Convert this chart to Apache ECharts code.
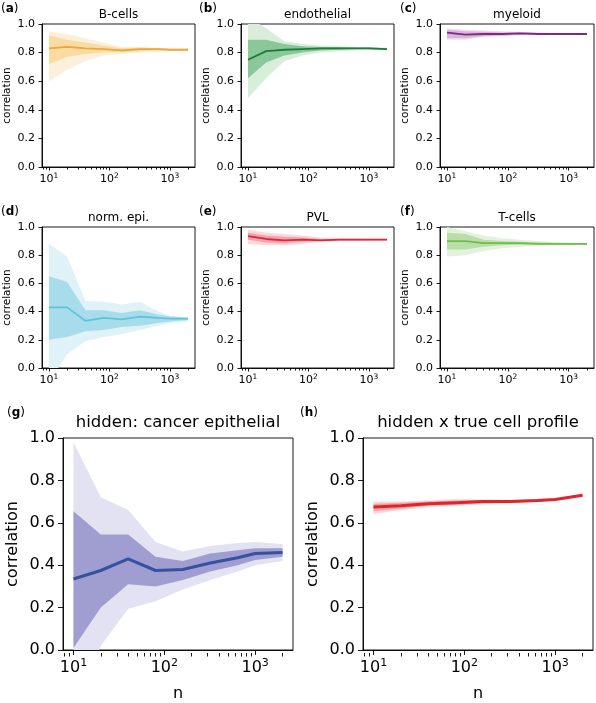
<!DOCTYPE html>
<html>
<head>
<meta charset="utf-8">
<script src="https://cdn.jsdelivr.net/npm/echarts@6/dist/echarts.min.js"></script>
<style>html,body{margin:0;padding:0;background:#fff}#chart{width:596px;height:703px}</style>
</head>
<body>
<div id="chart"></div>
<script>
// ---- data ----
const nValues = [10, 20, 40, 80, 160, 320, 640, 1000, 2000];
const majorTicks = [10, 100, 1000];
const minorTicks = [8, 9, 20, 30, 40, 50, 60, 70, 80, 90, 200, 300, 400, 500, 600, 700, 800, 900, 2000];

const panelLabels = ['a', 'b', 'c', 'd', 'e', 'f', 'g', 'h'];
const panelTitles = ['B-cells', 'endothelial', 'myeloid', 'norm. epi.', 'PVL', 'T-cells', 'hidden: cancer epithelial', 'hidden x true cell profile'];

const bcellsMean    = [0.83, 0.84, 0.83, 0.825, 0.815, 0.825, 0.825, 0.82, 0.82];
const bcellsInnerLo = [0.72, 0.77, 0.79, 0.80, 0.80, 0.81, 0.815, 0.815, 0.815];
const bcellsInnerHi = [0.92, 0.89, 0.87, 0.85, 0.83, 0.835, 0.83, 0.825, 0.825];
const bcellsOuterLo = [0.60, 0.68, 0.74, 0.78, 0.79, 0.80, 0.805, 0.81, 0.81];
const bcellsOuterHi = [0.95, 0.93, 0.90, 0.87, 0.84, 0.84, 0.835, 0.83, 0.83];

const endoMean    = [0.75, 0.81, 0.82, 0.825, 0.83, 0.83, 0.83, 0.83, 0.825];
const endoInnerLo = [0.62, 0.73, 0.78, 0.80, 0.815, 0.82, 0.825, 0.825, 0.82];
const endoInnerHi = [0.89, 0.89, 0.86, 0.845, 0.84, 0.84, 0.835, 0.835, 0.83];
const endoOuterLo = [0.48, 0.62, 0.74, 0.78, 0.80, 0.81, 0.815, 0.82, 0.815];
const endoOuterHi = [1.05, 0.97, 0.88, 0.86, 0.85, 0.845, 0.84, 0.84, 0.835];

const myeloidMean    = [0.94, 0.925, 0.93, 0.93, 0.935, 0.93, 0.93, 0.93, 0.93];
const myeloidInnerLo = [0.90, 0.90, 0.915, 0.92, 0.925, 0.925, 0.925, 0.927, 0.927];
const myeloidInnerHi = [0.96, 0.95, 0.945, 0.94, 0.94, 0.937, 0.935, 0.933, 0.933];
const myeloidOuterLo = [0.89, 0.89, 0.91, 0.915, 0.92, 0.922, 0.923, 0.925, 0.925];
const myeloidOuterHi = [0.97, 0.96, 0.955, 0.95, 0.945, 0.94, 0.937, 0.935, 0.935];

const normMean    = [0.43, 0.43, 0.335, 0.355, 0.345, 0.365, 0.355, 0.35, 0.35];
const normInnerLo = [0.20, 0.22, 0.26, 0.27, 0.29, 0.30, 0.32, 0.33, 0.34];
const normInnerHi = [0.65, 0.61, 0.41, 0.41, 0.39, 0.41, 0.38, 0.365, 0.355];
const normOuterLo = [-0.1, 0.10, 0.19, 0.22, 0.24, 0.27, 0.30, 0.32, 0.33];
const normOuterHi = [0.88, 0.79, 0.475, 0.47, 0.45, 0.47, 0.40, 0.37, 0.36];

const pvlMean    = [0.935, 0.915, 0.905, 0.91, 0.905, 0.91, 0.91, 0.91, 0.91];
const pvlInnerLo = [0.91, 0.89, 0.885, 0.895, 0.90, 0.905, 0.905, 0.906, 0.906];
const pvlInnerHi = [0.96, 0.94, 0.93, 0.925, 0.915, 0.915, 0.914, 0.914, 0.914];
const pvlOuterLo = [0.88, 0.87, 0.87, 0.88, 0.895, 0.90, 0.902, 0.903, 0.904];
const pvlOuterHi = [0.98, 0.96, 0.95, 0.94, 0.925, 0.92, 0.918, 0.917, 0.916];

const tcellMean    = [0.90, 0.90, 0.885, 0.885, 0.885, 0.88, 0.88, 0.88, 0.88];
const tcellInnerLo = [0.84, 0.84, 0.86, 0.87, 0.875, 0.873, 0.875, 0.876, 0.876];
const tcellInnerHi = [0.96, 0.95, 0.91, 0.90, 0.895, 0.89, 0.887, 0.885, 0.885];
const tcellOuterLo = [0.79, 0.80, 0.83, 0.85, 0.86, 0.865, 0.87, 0.872, 0.873];
const tcellOuterHi = [1.00, 0.97, 0.94, 0.92, 0.91, 0.90, 0.893, 0.89, 0.888];

const cancerMean    = [0.335, 0.375, 0.43, 0.375, 0.38, 0.41, 0.435, 0.455, 0.46];
const cancerInnerLo = [0.01, 0.20, 0.31, 0.30, 0.33, 0.37, 0.40, 0.425, 0.44];
const cancerInnerHi = [0.655, 0.545, 0.545, 0.44, 0.42, 0.455, 0.47, 0.48, 0.48];
const cancerOuterLo = [-0.3, 0.02, 0.195, 0.23, 0.285, 0.33, 0.37, 0.40, 0.42];
const cancerOuterHi = [0.98, 0.72, 0.66, 0.51, 0.465, 0.49, 0.505, 0.51, 0.50];

const profileMean    = [0.675, 0.68, 0.69, 0.695, 0.70, 0.70, 0.705, 0.71, 0.73];
const profileInnerLo = [0.655, 0.667, 0.68, 0.685, 0.692, 0.695, 0.70, 0.706, 0.726];
const profileInnerHi = [0.69, 0.695, 0.70, 0.705, 0.706, 0.705, 0.71, 0.714, 0.734];
const profileOuterLo = [0.64, 0.66, 0.675, 0.68, 0.688, 0.693, 0.698, 0.704, 0.724];
const profileOuterHi = [0.70, 0.70, 0.705, 0.712, 0.71, 0.707, 0.712, 0.716, 0.736];

// ---- styling / layout ----
const FONT = 'DejaVu Sans';
const XMIN = 7.67, XMAX = 2607;

const panels = [
  {mean: bcellsMean, iLo: bcellsInnerLo, iHi: bcellsInnerHi, oLo: bcellsOuterLo, oHi: bcellsOuterHi,
   line: '#e8a93a', inner: '#f9dba3', outer: '#fdf0da', rect: [42, 24, 153, 143], big: false},
  {mean: endoMean, iLo: endoInnerLo, iHi: endoInnerHi, oLo: endoOuterLo, oHi: endoOuterHi,
   line: '#1e7b3c', inner: '#8bc899', outer: '#d8eedb', rect: [241, 24, 153, 143], big: false},
  {mean: myeloidMean, iLo: myeloidInnerLo, iHi: myeloidInnerHi, oLo: myeloidOuterLo, oHi: myeloidOuterHi,
   line: '#7d2b80', inner: '#dbb5da', outer: '#f0dff0', rect: [440, 24, 154, 143], big: false},
  {mean: normMean, iLo: normInnerLo, iHi: normInnerHi, oLo: normOuterLo, oHi: normOuterHi,
   line: '#5ec3db', inner: '#a8dcea', outer: '#def2f8', rect: [42, 227, 153, 141], big: false},
  {mean: pvlMean, iLo: pvlInnerLo, iHi: pvlInnerHi, oLo: pvlOuterLo, oHi: pvlOuterHi,
   line: '#d52b3b', inner: '#f4a3ab', outer: '#fad8db', rect: [241, 227, 153, 141], big: false},
  {mean: tcellMean, iLo: tcellInnerLo, iHi: tcellInnerHi, oLo: tcellOuterLo, oHi: tcellOuterHi,
   line: '#6dbd50', inner: '#b9dea8', outer: '#e3f2dd', rect: [440, 227, 154, 141], big: false},
  {mean: cancerMean, iLo: cancerInnerLo, iHi: cancerInnerHi, oLo: cancerOuterLo, oHi: cancerOuterHi,
   line: '#3552a2', inner: '#a09dd0', outer: '#e3e2f2', rect: [63, 438, 230, 215], big: true},
  {mean: profileMean, iLo: profileInnerLo, iHi: profileInnerHi, oLo: profileOuterLo, oHi: profileOuterHi,
   line: '#e0242c', inner: '#f4a5a8', outer: '#fbd9da', rect: [363, 438, 230, 215], big: true}
];
const labelPos = [[1, 9], [199, 9], [400, 9], [1, 212], [199, 212], [400, 212], [7, 413], [300, 413]];

const grids = [], xAxes = [], yAxes = [], series = [], graphics = [];

function bandSeries(xIdx, yIdx, lo, hi, color, z) {
  return {
    type: 'custom', xAxisIndex: xIdx, yAxisIndex: yIdx, clip: true, silent: true, z: z,
    data: nValues.map((n, i) => [n, lo[i], hi[i]]),
    encode: {x: 0, y: [1, 2]},
    renderItem: function (params, api) {
      if (params.dataIndex !== 0) return null;
      const pts = [];
      for (let i = 0; i < nValues.length; i++) pts.push(api.coord([nValues[i], hi[i]]));
      for (let i = nValues.length - 1; i >= 0; i--) pts.push(api.coord([nValues[i], lo[i]]));
      return {type: 'polygon', shape: {points: pts}, style: {fill: color, stroke: null}};
    }
  };
}

panels.forEach((p, k) => {
  const big = p.big;
  const tickFs = big ? 16 : 11;
  const supFs = big ? 11 : 7.5;
  const [l, t, w, h] = p.rect;
  grids.push({left: l, top: t, width: w, height: h, show: true, borderColor: '#000', borderWidth: 0.9, backgroundColor: 'transparent'});
  const xMain = xAxes.length;
  xAxes.push({
    gridIndex: k, type: 'log', logBase: 10, min: XMIN, max: XMAX, position: 'bottom',
    axisLine: {show: true, lineStyle: {color: '#000', width: 0.9}},
    axisTick: {show: true, customValues: majorTicks, length: big ? 5 : 3.5, lineStyle: {color: '#000', width: 0.9}},
    axisLabel: {
      show: true, customValues: majorTicks, margin: big ? 8 : 5, color: '#000',
      formatter: v => '{b|10}{s|' + Math.round(Math.log10(v)) + '}',
      rich: {
        b: {fontFamily: FONT, fontSize: tickFs, lineHeight: big ? 20 : 14, color: '#000'},
        s: {fontFamily: FONT, fontSize: supFs, lineHeight: big ? 11 : 8, verticalAlign: 'top', color: '#000'}
      }
    },
    splitLine: {show: false},
    name: big ? 'n' : '', nameLocation: 'middle', nameGap: 36,
    nameTextStyle: {fontFamily: FONT, fontSize: 16, color: '#000'}
  });
  // minor ticks: second log axis in the top slot, shifted down onto the bottom spine, ticks pointing down
  xAxes.push({
    gridIndex: k, type: 'log', logBase: 10, min: XMIN, max: XMAX, position: 'top', offset: -h,
    axisLine: {show: false},
    axisTick: {show: true, inside: true, customValues: minorTicks, length: big ? 3.5 : 2.5, lineStyle: {color: '#000', width: 0.9}},
    axisLabel: {show: false}, splitLine: {show: false}
  });
  yAxes.push({
    gridIndex: k, type: 'value', min: 0, max: 1, interval: 0.2,
    axisLine: {show: true, lineStyle: {color: '#000', width: 0.9}},
    axisTick: {show: true, length: big ? 5 : 3.5, lineStyle: {color: '#000', width: 0.9}},
    axisLabel: {margin: big ? 8 : 7, color: '#000', fontFamily: FONT, fontSize: tickFs, formatter: v => v.toFixed(1)},
    splitLine: {show: false},
    name: 'correlation', nameLocation: 'middle', nameGap: big ? 42 : 29,
    nameTextStyle: {fontFamily: FONT, fontSize: big ? 16 : 10.5, color: '#000'}
  });
  series.push(bandSeries(xMain, k, p.oLo, p.oHi, p.outer, 1));
  series.push(bandSeries(xMain, k, p.iLo, p.iHi, p.inner, 2));
  series.push({
    type: 'line', xAxisIndex: xMain, yAxisIndex: k, showSymbol: false, silent: true, z: 3,
    data: nValues.map((n, i) => [n, p.mean[i]]),
    lineStyle: {color: p.line, width: big ? 3 : 1.8}, itemStyle: {color: p.line}
  });
  graphics.push({
    type: 'text', x: l + w / 2, y: t - (big ? 15 : 9),
    style: {text: panelTitles[k], fill: '#000', font: (big ? 16.5 : 12) + 'px "' + FONT + '"', textAlign: 'center', textVerticalAlign: 'middle'}
  });
  graphics.push({
    type: 'text', x: labelPos[k][0], y: labelPos[k][1],
    style: {
      text: '{n|(}{b|' + panelLabels[k] + '}{n|)}', textVerticalAlign: 'middle',
      rich: {n: {fontFamily: FONT, fontSize: 12, fill: '#000'}, b: {fontFamily: FONT, fontSize: 12, fontWeight: 'bold', fill: '#000'}}
    }
  });
});

const chart = echarts.init(document.getElementById('chart'), null, {renderer: 'canvas'});
chart.setOption({
  animation: false,
  backgroundColor: '#fff',
  grid: grids, xAxis: xAxes, yAxis: yAxes, series: series, graphic: graphics
});
</script>
</body>
</html>
